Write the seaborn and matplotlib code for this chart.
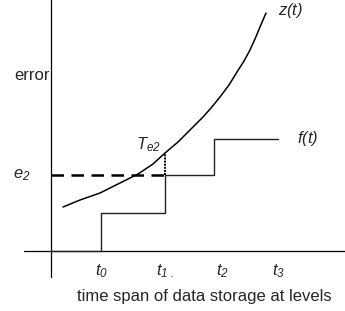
import matplotlib
matplotlib.use("Agg")
import matplotlib.pyplot as plt
import seaborn as sns
import numpy as np
import pandas as pd

# step levels f(t): break points on the time axis and the level after each
step_t = [0, 50, 114, 163, 227]
step_f = [0, 38, 76, 112, 112]

# error curve z(t)
z_t = [12, 29, 49, 69, 87, 102, 114, 127, 136, 144, 152, 160, 169, 178, 186, 193, 199, 204, 209, 215]
z_v = [44, 51, 58, 68, 77, 87, 98, 109, 118, 126, 134, 143, 154, 166, 179, 190, 201, 212, 224, 238]

tick_pos = [50, 114, 171, 227]
tick_labels = [r"$\mathit{t_{0}}$", r"$\mathit{t_{1\ .}}$", r"$\mathit{t_{2}}$", r"$\mathit{t_{3}}$"]

e2 = 76
t_e2 = 114
z_at_te2 = 98

sns.set_style("white")
plt.rcParams["font.family"] = ["Liberation Sans", "DejaVu Sans"]
plt.rcParams["mathtext.fontset"] = "custom"
plt.rcParams["mathtext.it"] = "Liberation Sans:italic"
plt.rcParams["mathtext.rm"] = "Liberation Sans:italic"

fig = plt.figure(figsize=(3.45, 3.11), dpi=100)
ax = fig.add_axes([0, 0, 1, 1])
ax.set_xlim(-51, 294)
ax.set_ylim(-60, 251)
ax.axis("off")

# axes lines
ax.plot([0, 0], [-26, 251], color="black", lw=0.9)
ax.plot([-27, 294], [0, 0], color="black", lw=0.9)

steps = pd.DataFrame({"t": step_t, "f": step_f})
sns.lineplot(data=steps, x="t", y="f", drawstyle="steps-post",
             color="#222222", lw=1.0, ax=ax, estimator=None, sort=False)

curve = pd.DataFrame({"t": z_t, "z": z_v})
sns.lineplot(data=curve, x="t", y="z", color="black", lw=1.1,
             ax=ax, estimator=None, sort=False)

ax.plot([0, t_e2], [e2, e2], color="black", lw=1.8, ls=(0, (5, 3)))
ax.plot([t_e2, t_e2], [e2, z_at_te2], color="black", lw=1.4, ls=(0, (1, 0.6)))

fs = 12
for p, lab in zip(tick_pos, tick_labels):
    ax.text(p, -20, lab, ha="center", va="center", fontsize=fs)
ax.text(153, -45, "time span of data storage at levels",
        ha="center", va="center", fontsize=fs)
ax.text(-1, 176, "error", ha="right", va="center", fontsize=fs)
ax.text(-29, e2, r"$\mathit{e_{2}}$", ha="center", va="center", fontsize=fs)
ax.text(97, 106, r"$\mathit{T_{e2}}$", ha="center", va="center", fontsize=fs)
ax.text(240, 241, r"$\mathit{z(t)}$", ha="center", va="center", fontsize=fs)
ax.text(257, 112, r"$\mathit{f(t)}$", ha="center", va="center", fontsize=fs)

fig.savefig("out.png", dpi=100)
